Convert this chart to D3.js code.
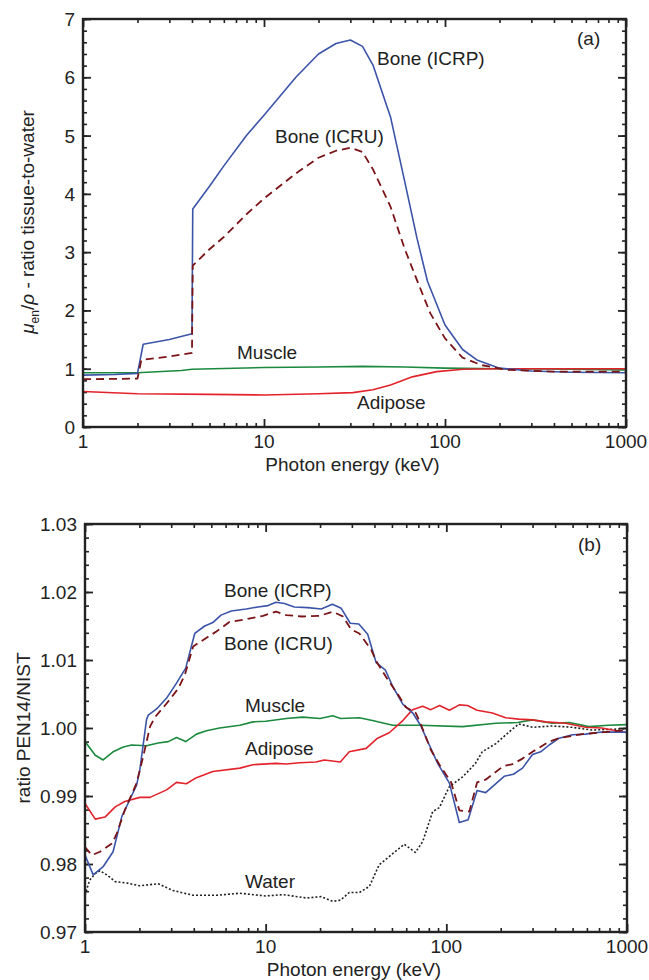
<!DOCTYPE html>
<html>
<head>
<meta charset="utf-8">
<script src="https://cdn.jsdelivr.net/npm/d3@7"></script>
<style>
  body { margin: 0; background: #fff; }
  svg text { font-family: "Liberation Sans", Arial, sans-serif; fill: #222; }
</style>
</head>
<body>
<script>
// ---- panel (a): mu_en/rho ratio tissue-to-water ----
const a_boneICRP = [[1,0.89],[1.5,0.90],[2.0,0.92],[2.15,1.42],[3,1.50],[4.0,1.60],[4.04,3.74],[5,4.13],[6,4.48],[8,5.0],[10,5.35],[15,6.0],[20,6.4],[25,6.58],[30,6.64],[35,6.53],[40,6.21],[50,5.32],[60,4.2],[70,3.24],[80,2.5],[100,1.75],[125,1.33],[150,1.15],[200,1.01],[300,0.96],[500,0.94],[1000,0.93]];
const a_boneICRU = [[1,0.82],[2.0,0.83],[2.1,1.15],[3,1.21],[4.0,1.27],[4.04,2.77],[5,3.05],[6,3.26],[8,3.65],[10,3.92],[15,4.35],[20,4.62],[25,4.74],[30,4.79],[35,4.72],[40,4.42],[50,3.78],[60,3.05],[70,2.52],[83,1.95],[100,1.52],[125,1.19],[160,1.06],[220,0.98],[400,0.95],[1000,0.95]];
const a_muscle = [[1,0.93],[2,0.93],[3.5,0.97],[4,0.99],[10,1.02],[20,1.03],[35,1.04],[60,1.03],[100,1.01],[200,1.0],[500,0.99],[1000,0.98]];
const a_adipose = [[1,0.61],[2,0.57],[5,0.56],[10,0.55],[20,0.57],[31,0.59],[40,0.64],[50,0.72],[66,0.86],[90,0.95],[126,0.99],[200,1.0],[1000,1.0]];

// ---- panel (b): ratio PEN14/NIST ----
const b_boneICRP = [[1,0.9813],[1.11,0.9784],[1.26,0.9796],[1.43,0.9818],[1.6,0.9870],[1.73,0.9889],[1.93,0.9916],[2.01,0.9938],[2.19,1.0012],[2.24,1.0019],[2.49,1.0028],[2.83,1.0044],[3.21,1.0066],[3.61,1.0088],[4.05,1.0139],[4.6,1.0150],[5.1,1.0155],[5.66,1.0166],[6.45,1.0172],[7.8,1.0175],[9.05,1.0178],[10.3,1.0180],[11.4,1.0185],[12.7,1.0183],[14.4,1.0178],[17.1,1.0177],[20.3,1.0175],[23.4,1.0182],[26.2,1.0176],[29.4,1.0154],[32.8,1.0153],[36.7,1.0138],[40.9,1.0096],[46,1.0085],[50.5,1.0061],[57.4,1.0035],[65.2,1.0022],[72,1.0004],[80.5,0.9975],[89.5,0.9948],[104,0.9919],[118,0.9861],[132,0.9865],[148,0.9908],[165,0.9905],[209,0.9929],[235,0.9932],[264,0.9941],[300,0.9961],[333,0.9965],[371,0.9975],[421,0.9985],[499,0.9990],[589,0.9991],[725,0.9994],[1000,0.9994]];
const b_boneICRU = [[1,0.9825],[1.09,0.9813],[1.21,0.9818],[1.41,0.9830],[1.5,0.9845],[1.66,0.9879],[1.93,0.9919],[2.1,0.9958],[2.29,1.0002],[2.44,1.0016],[2.83,1.0036],[3.28,1.0058],[3.57,1.0078],[3.97,1.0120],[4.6,1.0131],[5.34,1.0142],[6.3,1.0156],[7.8,1.0160],[9.67,1.0165],[11.4,1.0171],[13,1.0166],[15.8,1.0164],[19.9,1.0165],[23.5,1.0171],[26.8,1.0164],[29.7,1.0145],[33,1.0139],[38.4,1.0115],[41.2,1.0097],[46.4,1.0075],[55,1.0046],[59.5,1.0031],[67.8,1.0022],[72.6,1.0004],[82,0.9968],[93,0.9943],[106,0.9921],[118,0.9879],[134,0.9877],[148,0.9920],[165,0.9924],[207,0.9944],[233,0.9947],[264,0.9955],[300,0.9965],[371,0.9980],[421,0.9985],[566,0.9991],[1000,0.9997]];
const b_muscle = [[1,0.9980],[1.14,0.9960],[1.26,0.9953],[1.43,0.9965],[1.63,0.9972],[1.81,0.9975],[2.19,0.9974],[2.54,0.9978],[2.89,0.9980],[3.21,0.9986],[3.61,0.9980],[4.14,0.9991],[4.7,0.9996],[5.56,1.0],[7.2,1.0004],[8.5,1.0009],[10,1.0010],[13,1.0014],[16,1.0016],[20,1.0014],[23.5,1.0018],[26,1.0014],[33,1.0015],[39,1.0011],[50.5,1.0004],[71,1.0004],[123,1.0002],[188,1.0007],[248,1.0008],[300,1.0012],[384,1.0007],[480,1.0008],[615,1.0002],[790,1.0004],[1000,1.0005]];
const b_adipose = [[1,0.9889],[1.14,0.9866],[1.29,0.9869],[1.47,0.9884],[1.66,0.9892],[2.01,0.9898],[2.29,0.9898],[2.83,0.9909],[3.21,0.9920],[3.64,0.9918],[4.14,0.9927],[5.1,0.9936],[7.2,0.9941],[8.5,0.9946],[11.4,0.9948],[13,0.9947],[15.4,0.9949],[19,0.9950],[21.1,0.9953],[25.9,0.9950],[29,0.9965],[36,0.9970],[41.6,0.9985],[48.3,0.9993],[57,1.0010],[65,1.0027],[74,1.0032],[82,1.0027],[91.8,1.0033],[104,1.0026],[118,1.0034],[131,1.0033],[148,1.0026],[180,1.0022],[213,1.0015],[252,1.0013],[300,1.0012],[355,1.0009],[457,1.0007],[590,1.0001],[725,1.0],[1000,0.9993]];
const b_water = [[1,0.9754],[1.06,0.9776],[1.14,0.9786],[1.21,0.9790],[1.32,0.9784],[1.47,0.9774],[1.7,0.9772],[2.01,0.9768],[2.54,0.9771],[3.07,0.9761],[3.97,0.9754],[5.34,0.9754],[7.2,0.9757],[10,0.9753],[12.5,0.9755],[16.8,0.9750],[20.3,0.9752],[23.5,0.9745],[26,0.9747],[29,0.9758],[33,0.9758],[37.5,0.9767],[42.5,0.9799],[48.3,0.9811],[58.5,0.9829],[67.4,0.9817],[74,0.9833],[84,0.9877],[91.5,0.9883],[104,0.9914],[123,0.9928],[145,0.9948],[158,0.9965],[188,0.9977],[222,0.9994],[252,1.0006],[300,1.0001],[384,1.0003],[499,1.0001],[640,0.9997],[1000,0.9999]];

const xTickLabels = [1, 10, 100, 1000];
const a_yTicks = [0, 1, 2, 3, 4, 5, 6, 7];
const b_yTicks = [0.97, 0.98, 0.99, 1.00, 1.01, 1.02, 1.03];

const blue = "#3b54a8", darkred = "#7a1417", green = "#1b8a3e", red = "#e3232b", black = "#222";
const fontSize = 19;

const W = 649, H = 980;
const svg = d3.select("body").append("svg").attr("width", W).attr("height", H);

function minorLog() {
  const out = [];
  for (let d = 1; d < 1000; d *= 10)
    for (let k = 2; k <= 9; k++) out.push(d * k);
  return out;
}

function drawPanel(cfg) {
  const x = d3.scaleLog().domain([1, 1000]).range([cfg.left, cfg.right]);
  const y = d3.scaleLinear().domain(cfg.yDomain).range([cfg.bottom, cfg.top]);
  const g = svg.append("g");

  const minorY = d3.range(cfg.yDomain[0], cfg.yDomain[1] + 1e-9, cfg.yMinor);

  // tick marks on all four sides, pointing inward
  const axes = [
    [d3.axisBottom(x), `translate(0,${cfg.bottom})`, "x"],
    [d3.axisTop(x), `translate(0,${cfg.top})`, "x"],
    [d3.axisLeft(y), `translate(${cfg.left},0)`, "y"],
    [d3.axisRight(y), `translate(${cfg.right},0)`, "y"]
  ];
  axes.forEach(([ax, tr, kind]) => {
    const majors = kind === "x" ? xTickLabels : cfg.yTicks;
    const minors = kind === "x" ? minorLog() : minorY;
    g.append("g").attr("transform", tr)
      .call(ax.tickValues(minors).tickSize(-4).tickFormat(""))
      .call(s => s.select(".domain").remove())
      .selectAll("line").attr("stroke", black).attr("stroke-width", 1.6);
    g.append("g").attr("transform", tr)
      .call(ax.tickValues(majors).tickSize(-8).tickFormat(""))
      .call(s => s.select(".domain").remove())
      .selectAll("line").attr("stroke", black).attr("stroke-width", 1.8);
  });

  // tick labels
  g.selectAll(".xl").data(xTickLabels).enter().append("text")
    .attr("x", d => x(d)).attr("y", cfg.bottom + 21)
    .attr("text-anchor", "middle").attr("font-size", fontSize).text(d => d);
  g.selectAll(".yl").data(cfg.yTicks).enter().append("text")
    .attr("x", cfg.left - 8).attr("y", d => y(d) + 7)
    .attr("text-anchor", "end").attr("font-size", fontSize).text(cfg.yFormat);

  // curves
  const line = d3.line().x(d => x(d[0])).y(d => y(d[1]));
  const clip = "clip" + cfg.id;
  g.append("clipPath").attr("id", clip).append("rect")
    .attr("x", cfg.left).attr("y", cfg.top)
    .attr("width", cfg.right - cfg.left).attr("height", cfg.bottom - cfg.top);
  cfg.series.forEach(s => {
    g.append("path").datum(s.data).attr("d", line)
      .attr("clip-path", `url(#${clip})`)
      .attr("fill", "none").attr("stroke", s.color)
      .attr("stroke-width", s.width || 1.6)
      .attr("stroke-dasharray", s.dash || null)
      .attr("stroke-linejoin", "round");
  });

  // frame
  g.append("rect").attr("x", cfg.left).attr("y", cfg.top)
    .attr("width", cfg.right - cfg.left).attr("height", cfg.bottom - cfg.top)
    .attr("fill", "none").attr("stroke", black).attr("stroke-width", 2.4);

  // curve labels
  cfg.labels.forEach(l => {
    g.append("text").attr("x", l[0]).attr("y", l[1])
      .attr("font-size", fontSize).text(l[2]);
  });

  // x axis title
  g.append("text").attr("x", (cfg.left + cfg.right) / 2 - 2).attr("y", cfg.bottom + 44)
    .attr("text-anchor", "middle").attr("font-size", fontSize).text("Photon energy (keV)");
  return g;
}

const ga = drawPanel({
  id: "a", left: 83, right: 626, top: 19, bottom: 427,
  yDomain: [0, 7], yMinor: 0.2, yTicks: a_yTicks, yFormat: d => d,
  series: [
    { data: a_muscle, color: green },
    { data: a_adipose, color: red },
    { data: a_boneICRP, color: blue },
    { data: a_boneICRU, color: darkred, dash: "8,5", width: 1.8 }
  ],
  labels: [[377, 65, "Bone (ICRP)"], [275, 143, "Bone (ICRU)"], [237, 359, "Muscle"], [357, 409, "Adipose"], [577, 45, "(a)"]]
});

const ytA = ga.append("text").attr("transform", "translate(34,222) rotate(-90)")
  .attr("text-anchor", "middle").attr("font-size", fontSize);
ytA.append("tspan").attr("font-style", "italic").text("μ");
ytA.append("tspan").attr("font-size", 12).attr("dy", 5).text("en");
ytA.append("tspan").attr("dy", -5).text("/");
ytA.append("tspan").attr("font-style", "italic").text("ρ");
ytA.append("tspan").text(" - ratio tissue-to-water");

const gb = drawPanel({
  id: "b", left: 85, right: 627, top: 524, bottom: 932,
  yDomain: [0.97, 1.03], yMinor: 0.002, yTicks: b_yTicks, yFormat: d3.format(".2f"),
  series: [
    { data: b_water, color: black, dash: "2,2", width: 1.6 },
    { data: b_muscle, color: green },
    { data: b_adipose, color: red },
    { data: b_boneICRP, color: blue },
    { data: b_boneICRU, color: darkred, dash: "8,5", width: 1.8 }
  ],
  labels: [[224, 597, "Bone (ICRP)"], [224, 650, "Bone (ICRU)"], [245, 712, "Muscle"], [245, 755, "Adipose"], [245, 888, "Water"], [578, 551, "(b)"]]
});

gb.append("text").attr("transform", "translate(30,728) rotate(-90)")
  .attr("text-anchor", "middle").attr("font-size", fontSize).text("ratio PEN14/NIST");
</script>
</body>
</html>
